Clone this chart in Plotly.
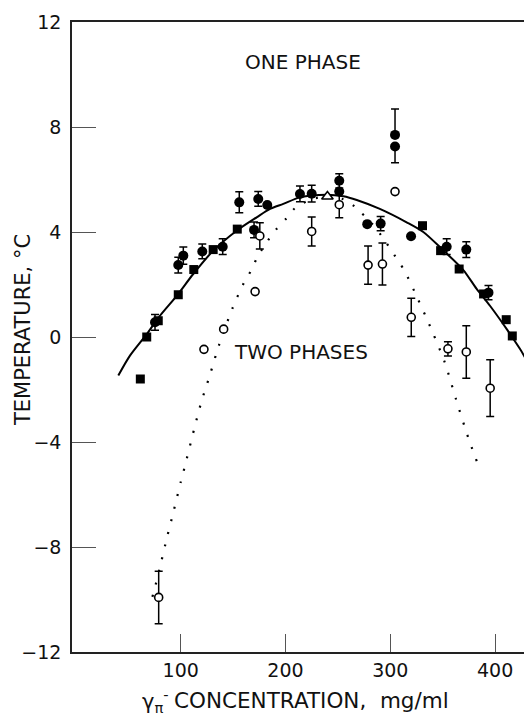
import plotly.graph_objects as go

# ---------------- data ----------------
# Solid boundary curve
curve_x = [40.5, 51.6, 67.6, 80.2, 96.2, 112, 131.1, 153.4, 172.5, 185.3, 197.9, 213.8,
           239.3, 255.2, 268, 290, 315.6, 331.5, 350.6, 369.7, 382.4, 395.1, 411.1,
           423.8, 434, 440]
curve_y = [-1.47, -0.71, 0.11, 0.81, 1.57, 2.4, 3.29, 4.05, 4.56, 4.88, 5.07, 5.32,
           5.42, 5.36, 5.22, 4.88, 4.37, 4.0, 3.3, 2.55, 1.83, 1.19, 0.30,
           -0.46, -1.15, -1.45]

# Dotted boundary curve
dot_x = [73, 75.9, 81.7, 87.1, 93.6, 100, 103.5, 112.9, 119.6, 127.7, 136.4, 149.2,
         160.5, 167.6, 173.1, 182.1, 190.9, 201.1, 209.1, 225, 240, 255, 264.1, 271.8,
         283, 293.3, 300.4, 313.4, 325.6, 336.6, 352, 362.6, 374.5, 383.5]
dot_y = [-9.9, -9.47, -8.52, -7.61, -6.58, -5.53, -5.0, -3.5, -2.49, -1.47, -0.33, 1.07,
         2.08, 2.56, 3.04, 3.61, 4.09, 4.53, 4.91, 5.25, 5.35, 5.25, 5.03, 4.75,
         4.3, 3.76, 3.33, 2.53, 1.51, 0.53, -0.97, -2.36, -3.85, -4.84]

# Filled squares
sq_x = [61.5, 67.6, 78.6, 97.7, 112.5, 131, 154, 330.7, 348, 365.7, 389, 410.6, 416.4, 433.5]
sq_y = [-1.6, 0.0, 0.62, 1.61, 2.57, 3.33, 4.11, 4.24, 3.29, 2.59, 1.64, 0.66, 0.04, -1.5]

# Filled circles (with error bars where drawn)
fc_x = [75.5, 97.7, 102.5, 120.6, 140.1, 155.9, 170, 174, 182.6, 213.8, 225,
        251.3, 251.3, 278, 290.8, 304.5, 304.5, 319.8, 353.8, 372.5, 393.7]
fc_y = [0.56, 2.74, 3.1, 3.26, 3.44, 5.13, 4.08, 5.26, 5.03, 5.45, 5.46,
        5.95, 5.54, 4.3, 4.32, 7.7, 7.26, 3.84, 3.44, 3.33, 1.69]
fc_err_plus = [0.3, 0.3, 0.33, 0.28, 0.3, 0.4, 0.3, 0.28, None, 0.3, 0.32,
               0.27, None, None, 0.27, 0.99, 0.0, None, 0.3, 0.3, 0.27]
fc_err_minus = [0.3, 0.3, 0.33, 0.28, 0.3, 0.4, 0.3, 0.28, None, 0.3, 0.32,
                0.27, None, None, 0.27, 0.0, 0.62, None, 0.3, 0.3, 0.27]

# Open circles
oc_x = [79, 122.2, 141, 171, 175.5, 225, 251.3, 278.8, 292.5, 304.5, 320, 355, 372.5, 395.3]
oc_y = [-9.92, -0.47, 0.3, 1.73, 3.85, 4.02, 5.04, 2.74, 2.78, 5.54, 0.75, -0.45, -0.57, -1.95]
oc_err = [1.0, None, None, None, 0.5, 0.55, 0.5, 0.73, 0.8, None, 0.73, 0.27, 1.0, 1.08]

# Open triangle (critical point)
tri_x = [240]
tri_y = [5.35]

x_ticks = [100, 200, 300, 400]
y_ticks = [-12, -8, -4, 0, 4, 8, 12]

FONT = "DejaVu Sans"

fig = go.Figure()

fig.add_trace(go.Scatter(x=curve_x, y=curve_y, mode="lines",
                         line=dict(color="black", width=2, shape="spline", smoothing=0.8),
                         hoverinfo="skip", showlegend=False))
fig.add_trace(go.Scatter(x=dot_x, y=dot_y, mode="lines",
                         line=dict(color="black", width=2.2, dash="2px,11px",
                                   shape="spline", smoothing=0.8),
                         hoverinfo="skip", showlegend=False))
fig.add_trace(go.Scatter(x=sq_x, y=sq_y, mode="markers",
                         marker=dict(symbol="square", size=9, color="black"),
                         showlegend=False))
fig.add_trace(go.Scatter(x=fc_x, y=fc_y, mode="markers",
                         marker=dict(symbol="circle", size=10, color="black"),
                         error_y=dict(type="data", symmetric=False, array=fc_err_plus,
                                      arrayminus=fc_err_minus, width=4, thickness=1.5,
                                      color="black"),
                         showlegend=False))
fig.add_trace(go.Scatter(x=oc_x, y=oc_y, mode="markers",
                         marker=dict(symbol="circle", size=8, color="white",
                                     line=dict(color="black", width=1.6)),
                         error_y=dict(type="data", array=oc_err, width=4, thickness=1.5,
                                      color="black"),
                         showlegend=False))
fig.add_trace(go.Scatter(x=tri_x, y=tri_y, mode="markers",
                         marker=dict(symbol="triangle-up", size=10, color="white",
                                     line=dict(color="black", width=1.6)),
                         showlegend=False))

fig.add_annotation(text="ONE PHASE", x=216.8, y=10.49, xref="x", yref="y",
                   showarrow=False, font=dict(family=FONT, size=20, color="#111"))
fig.add_annotation(text="TWO PHASES", x=214.4, y=-0.58, xref="x", yref="y",
                   showarrow=False, font=dict(family=FONT, size=20, color="#111"))

fig.add_annotation(text="TEMPERATURE, °C", textangle=-90, xref="paper", yref="paper",
                   x=-0.1065, y=0.511, xanchor="center", yanchor="middle",
                   showarrow=False, font=dict(family=FONT, size=21, color="#111"))
# x-axis title: symbol part and text part
fig.add_annotation(text="γ<sub>π</sub><sup>-</sup>", xref="paper", yref="paper",
                   x=0.215, y=-0.077, xanchor="right", yanchor="middle", showarrow=False,
                   font=dict(family=FONT, size=21, color="#111"))
fig.add_annotation(text="CONCENTRATION,\u00a0\u00a0mg/ml", xref="paper", yref="paper",
                   x=0.2167, y=-0.077, xanchor="left", yanchor="middle", showarrow=False,
                   font=dict(family=FONT, size=21.5, color="#111"))

# The page body adds an 8px offset; the figure is sized so it ends at the window edge.
fig.update_layout(
    template="none",
    width=524, height=711,
    margin=dict(l=64, r=0, t=14, b=67, pad=0),
    paper_bgcolor="white", plot_bgcolor="white",
    font=dict(family=FONT, size=18, color="#111"),
    xaxis=dict(range=[-3.7, 435.2], tickvals=x_ticks, ticks="inside", ticklen=18,
               tickcolor="#555", tickwidth=1, showline=True, linecolor="#222",
               linewidth=1.5, mirror=True, showgrid=False, zeroline=False,
               automargin=False,
               tickfont=dict(family=FONT, size=19, color="#111")),
    yaxis=dict(range=[-12, 12], tickvals=y_ticks, ticks="inside", ticklen=24,
               tickcolor="#555", tickwidth=1, showline=True, linecolor="#222",
               linewidth=1.5, showgrid=False, zeroline=False, automargin=False,
               ticklabelstandoff=5,
               tickfont=dict(family=FONT, size=19, color="#111")),
)

fig.write_html("out.html")
